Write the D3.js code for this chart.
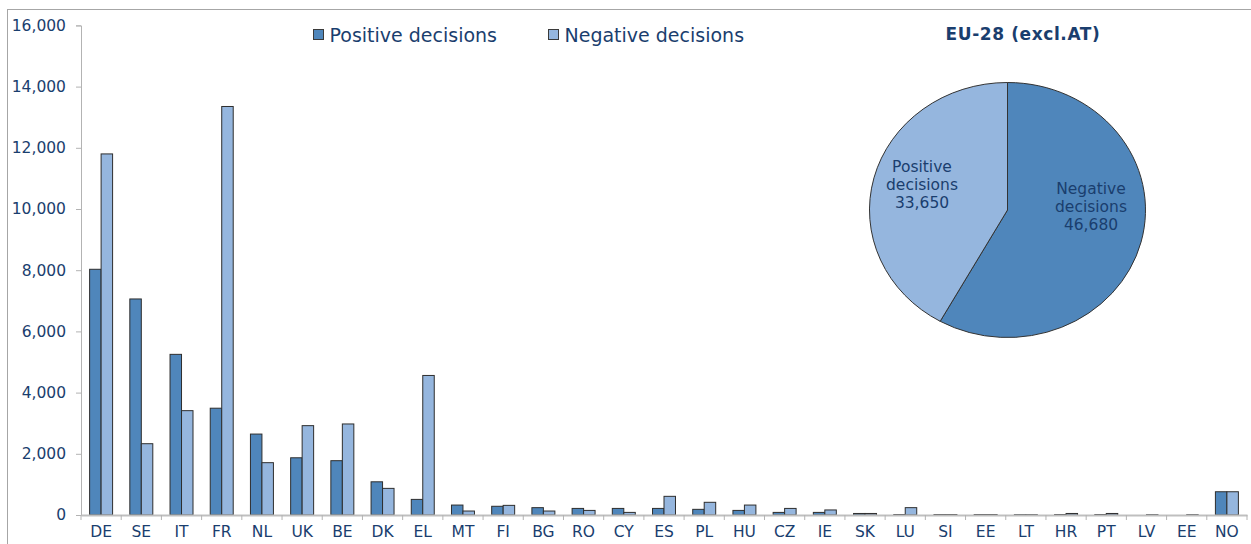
<!DOCTYPE html>
<html><head><meta charset="utf-8">
<script src="https://cdn.jsdelivr.net/npm/d3@7"></script>
<style>
html,body{margin:0;padding:0;background:#fff;}
svg{display:block;font-family:"DejaVu Sans",Verdana,sans-serif;}
</style></head>
<body>
<svg id="chart" width="1251" height="544"></svg>
<script>
const categories = ["DE","SE","IT","FR","NL","UK","BE","DK","EL","MT","FI","BG","RO","CY","ES","PL","HU","CZ","IE","SK","LU","SI","EE","LT","HR","PT","LV","EE","NO"];
const positiveDecisions = [8030,7060,5250,3490,2645,1870,1775,1085,510,325,285,240,215,215,215,185,150,85,85,50,15,15,15,10,15,15,0,0,760];
const negativeDecisions = [11800,2330,3410,13350,1710,2920,2975,870,4560,130,315,130,150,85,610,415,325,215,165,50,240,15,15,10,50,50,10,10,760];
const seriesNames = ["Positive decisions","Negative decisions"];
const yTicks = [0,2000,4000,6000,8000,10000,12000,14000,16000];
const pieTitle = "EU-28 (excl.AT)";
const pieNames = ["Negative decisions","Positive decisions"];
const pieValues = [46680,33650];

const colPos = "#4f86bb", colNeg = "#95b6de", textCol = "#1a3e6e";
const svg = d3.select("#chart");

// frame
svg.append("rect").attr("x",7.5).attr("y",9.5).attr("width",1260).attr("height",560)
  .attr("fill","none").attr("stroke","#a6a6a6").attr("stroke-width",1);

const x0 = 81, x1r = 1247, yTop = 25.4, yBot = 515;
const x = d3.scaleBand().domain(d3.range(categories.length)).range([x0,x1r]).padding(0);
const xs = d3.scaleBand().domain(["pos","neg"]).range([0,x.bandwidth()]).paddingInner(0).paddingOuter(0.75);
const y = d3.scaleLinear().domain([0,16000]).range([yBot,yTop]);

// y axis
const yAxis = svg.append("g").attr("transform",`translate(${x0},0)`)
  .call(d3.axisLeft(y).tickValues(yTicks).tickSize(5).tickPadding(10).tickFormat(d3.format(",")));
yAxis.select(".domain").attr("stroke","#b3b3b3");
yAxis.selectAll(".tick line").attr("stroke","#b3b3b3");
yAxis.selectAll("text").attr("fill",textCol).attr("font-size","15.5px").attr("font-family","DejaVu Sans");

// bars
const data = categories.map((c,i)=>({i, pos:positiveDecisions[i], neg:negativeDecisions[i]}));
const g = svg.append("g");
g.selectAll(".grp").data(data).join("g").attr("transform",d=>`translate(${x(d.i)},0)`)
  .each(function(d){
    const sel = d3.select(this);
    [["pos",d.pos,colPos],["neg",d.neg,colNeg]].forEach(([k,v,c])=>{
      sel.append("rect").attr("x",xs(k)).attr("width",xs.bandwidth())
        .attr("y",y(v)).attr("height",yBot-y(v))
        .attr("fill",c).attr("stroke","#2e2e2e").attr("stroke-width",1);
    });
  });

// x axis
const xAxis = svg.append("g").attr("transform",`translate(0,${yBot})`)
  .call(d3.axisBottom(x).tickSize(0).tickPadding(11).tickFormat(i=>categories[i]));
xAxis.select(".domain").attr("stroke","#bfbfbf").attr("stroke-width",2);
xAxis.selectAll("text").attr("fill",textCol).attr("font-size","15.5px").attr("font-family","DejaVu Sans");
// tick marks between categories
svg.append("g").selectAll("line").data(d3.range(categories.length+1)).join("line")
  .attr("x1",i=>x0+i*x.step()).attr("x2",i=>x0+i*x.step())
  .attr("y1",yBot).attr("y2",yBot+5).attr("stroke","#b3b3b3");

// legend
const leg = svg.append("g");
const legX = [313.5, 548.5];
seriesNames.forEach((n,i)=>{
  leg.append("rect").attr("x",legX[i]).attr("y",29.5).attr("width",10).attr("height",10)
    .attr("fill",i===0?colPos:colNeg).attr("stroke","#3a3a3a");
  leg.append("text").attr("x",legX[i]+16).attr("y",35).attr("dy","0.35em")
    .attr("fill",textCol).attr("font-size","19px").text(n);
});

// pie
const cx = 1007.5, cy = 210, ry = 127.5, rx = 138;
svg.append("text").attr("x",1023).attr("y",34).attr("dy","0.35em").attr("text-anchor","middle")
  .attr("fill",textCol).attr("font-size","17px").attr("letter-spacing","0.6px").attr("font-weight","bold").text(pieTitle);
const pie = d3.pie().sort(null)(pieValues);
const arc = d3.arc().innerRadius(0).outerRadius(ry);
const pg = svg.append("g").attr("transform",`translate(${cx},${cy}) scale(${rx/ry},1)`);
pg.selectAll("path").data(pie).join("path").attr("d",arc)
  .attr("fill",(d,i)=>i===0?colPos:colNeg).attr("stroke","#333").attr("stroke-width",1)
  .attr("vector-effect","non-scaling-stroke");

const labelPos = [[1091,188.5],[922,166.5]];
pie.forEach((d,i)=>{
  const t = svg.append("text").attr("text-anchor","middle").attr("fill",textCol).attr("font-size","15.5px");
  const lines = pieNames[i].split(" ").concat([d3.format(",")(pieValues[i])]);
  lines.forEach((l,j)=>{
    t.append("tspan").attr("x",labelPos[i][0]).attr("y",labelPos[i][1]+j*18).attr("dy","0.35em").text(l);
  });
});
</script>
</body></html>
